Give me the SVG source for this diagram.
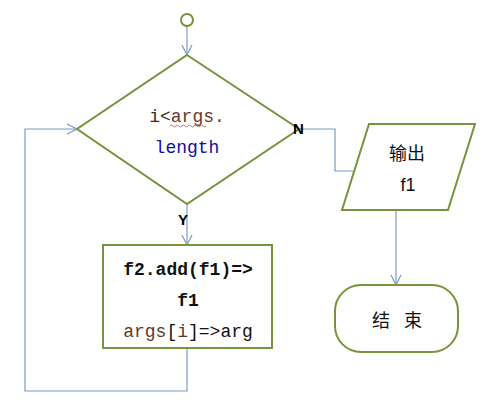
<svg xmlns="http://www.w3.org/2000/svg" width="491" height="417" viewBox="0 0 491 417">
<defs>
<style>
.shape{fill:#fff;stroke:#77933c;stroke-width:2}
.conn{fill:none;stroke:#7a9cc8;stroke-width:1.2}
.mono{font-family:"Liberation Mono","DejaVu Sans Mono",monospace;font-size:18px}
.sans{font-family:"Liberation Sans","Noto Sans CJK SC",sans-serif;font-size:18px;fill:#111}
.lbl{font-family:"Liberation Sans",sans-serif;font-size:15px;font-weight:bold;fill:#000}
</style>
<marker id="arr" viewBox="0 0 12 12" refX="11" refY="6" markerWidth="12" markerHeight="12" markerUnits="userSpaceOnUse" orient="auto">
<path d="M1,1 L11,6 L1,11" fill="none" stroke="#7a9cc8" stroke-width="1.2"/>
</marker>
</defs>
<rect width="491" height="417" fill="#fff"/>
<g id="connectors">
<path class="conn" d="M187,26 V55" marker-end="url(#arr)"/>
<path class="conn" d="M187,204 V245" marker-end="url(#arr)"/>
<path class="conn" d="M187,348 V391 H25 V129 H77" marker-end="url(#arr)"/>
<path class="conn" d="M299,129 H335 V171 H353"/>
<path class="conn" d="M396,210 V285" marker-end="url(#arr)"/>
</g>
<g id="start">
<circle cx="187" cy="20" r="6" fill="#fff" stroke="#77933c" stroke-width="2"/>
</g>
<g id="decision">
<polygon class="shape" points="187,55 299,129 187,204 77,129"/>
<text class="mono" x="187" y="122" text-anchor="middle" font-size="17.5"><tspan fill="#3a2a2a">i&lt;</tspan><tspan fill="#6b3a2a">args.</tspan></text>
<path d="M170,126 q1.5,-2 3,0 t3,0 t3,0 t3,0 t3,0 t3,0 t3,0 t3,0 t3,0 t3,0 t3,0 t3,0" fill="none" stroke="#d04040" stroke-width="0.8"/>
<text class="mono" x="187" y="153" text-anchor="middle" font-size="17.5" fill="#10109a">length</text>
<text class="lbl" x="293" y="134">N</text>
<text class="lbl" x="178" y="225">Y</text>
</g>
<g id="process">
<rect class="shape" x="103" y="245" width="169" height="103"/>
<text class="mono" x="188" y="275" text-anchor="middle" font-weight="bold" fill="#111">f2.add(f1)=&gt;</text>
<text class="mono" x="188" y="306" text-anchor="middle" font-weight="bold" fill="#111">f1</text>
<text class="mono" x="188" y="337" text-anchor="middle" fill="#111"><tspan fill="#5a3a30">args</tspan>[<tspan fill="#5a3a30">i</tspan>]=&gt;<tspan fill="#111">arg</tspan></text>
</g>
<g id="output">
<polygon class="shape" points="369,124 475,124 448,210 342,210"/>
<text class="sans" x="407" y="160" text-anchor="middle" font-size="19">输出</text>
<text class="sans" x="408" y="191" text-anchor="middle">f1</text>
</g>
<g id="end">
<rect class="shape" x="335" y="285" width="123" height="67" rx="26" ry="26"/>
<text class="sans" x="397" y="327" text-anchor="middle" font-size="19" word-spacing="9">结 束</text>
</g>
</svg>
